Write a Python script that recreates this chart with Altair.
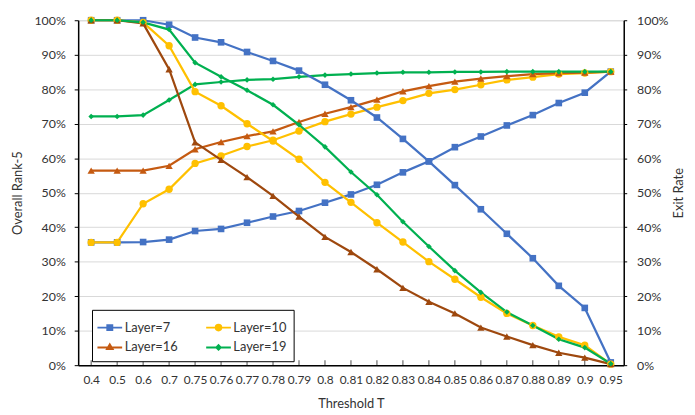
import altair as alt
import pandas as pd

thresholds = ["0.4", "0.5", "0.6", "0.7", "0.75", "0.76", "0.77", "0.78", "0.79", "0.8",
              "0.81", "0.82", "0.83", "0.84", "0.85", "0.86", "0.87", "0.88", "0.89", "0.9", "0.95"]
layers = ["Layer=7", "Layer=10", "Layer=16", "Layer=19"]

# Overall Rank-5 (left axis), percent
acc_7 = [35.6, 35.6, 35.7, 36.4, 38.9, 39.5, 41.3, 43.1, 44.7, 47.1, 49.5, 52.3, 55.9, 59.1, 63.2, 66.3, 69.5, 72.5, 76.0, 79.0, 85.1]
acc_10 = [35.6, 35.6, 46.8, 51.0, 58.5, 60.7, 63.4, 65.2, 67.9, 70.6, 72.8, 74.8, 76.7, 78.8, 79.9, 81.3, 82.7, 83.5, 84.4, 84.7, 85.1]
acc_16 = [56.4, 56.4, 56.4, 57.8, 62.6, 64.7, 66.4, 67.8, 70.5, 72.9, 74.8, 77.0, 79.4, 80.9, 82.2, 83.1, 83.8, 84.4, 84.7, 84.8, 85.1]
acc_19 = [72.1, 72.1, 72.5, 76.9, 81.4, 82.1, 82.7, 82.9, 83.6, 84.1, 84.4, 84.7, 84.9, 84.9, 85.0, 85.0, 85.1, 85.1, 85.1, 85.1, 85.1]

# Exit Rate (right axis), percent
exit_7 = [100, 100, 100, 98.7, 95.0, 93.6, 90.8, 88.2, 85.4, 81.3, 76.8, 71.8, 65.6, 59.1, 52.2, 45.2, 38.1, 31.0, 23.0, 16.6, 0.8]
exit_10 = [100, 100, 99.4, 92.6, 79.3, 75.2, 70.0, 65.0, 59.7, 53.0, 47.2, 41.3, 35.7, 30.0, 24.9, 19.7, 15.0, 11.5, 8.2, 5.8, 0.3]
exit_16 = [100, 100, 99.1, 85.8, 64.6, 59.5, 54.5, 49.1, 43.1, 37.2, 32.8, 27.8, 22.4, 18.4, 15.0, 10.9, 8.3, 5.8, 3.6, 2.2, 0.3]
exit_19 = [100, 100, 99.4, 97.3, 87.7, 83.6, 79.7, 75.5, 69.7, 63.3, 56.0, 49.4, 41.6, 34.4, 27.4, 21.1, 15.4, 11.5, 7.5, 5.1, 0.4]

acc_colors = ["#4472C4", "#FFC000", "#C55A11", "#00B050"]
exit_colors = ["#4472C4", "#FFC000", "#9E480E", "#00B050"]
shapes = ["square", "circle", "triangle-up", "diamond"]
sizes = [45, 55, 55, 32]

rows = []
for name, acc, ex in zip(layers, [acc_7, acc_10, acc_16, acc_19], [exit_7, exit_10, exit_16, exit_19]):
    for t, a, e in zip(thresholds, acc, ex):
        rows.append(dict(T=t, layer=name, series=name, metric="acc", v=a / 100))
        rows.append(dict(T=t, layer=name, series=name + " exit", metric="exit", v=e / 100))
df = pd.DataFrame(rows)

series_domain = layers + [l + " exit" for l in layers]
series_range = acc_colors + exit_colors

FONT = "Lato"
TXT = "#333333"

# legend symbols: a line segment with a marker (marker drawn with concentric strokes)
line_seg = "M-1.25,0H1.25"
legend_paths = [
    line_seg + "M-0.25,-0.25H0.25V0.25H-0.25ZM-0.1,-0.1H0.1V0.1H-0.1Z",
    line_seg + "M0.28,0A0.28,0.28,0,1,1,-0.28,0A0.28,0.28,0,1,1,0.28,0Z"
               "M0.1,0A0.1,0.1,0,1,1,-0.1,0A0.1,0.1,0,1,1,0.1,0Z",
    line_seg + "M0,-0.3L0.28,0.17H-0.28ZM0,-0.1L0.09,0.05H-0.09Z",
    line_seg + "M0,-0.22L0.22,0L0,0.22L-0.22,0ZM0,-0.06L0.06,0L0,0.06L-0.06,0Z",
]

legend = alt.Legend(
    orient="none", legendX=14, legendY=293, columns=2, direction="horizontal", title=None,
    symbolSize=400, symbolStrokeWidth=2,
    labelFont=FONT, labelFontSize=13, labelColor=TXT, labelOffset=4,
    strokeColor="black", fillColor="white", padding=7,
    columnPadding=24, rowPadding=2,
)

stroke_enc = alt.Stroke("series:N", scale=alt.Scale(domain=series_domain, range=series_range), legend=None)
fill_enc = alt.Fill("series:N", scale=alt.Scale(domain=series_domain, range=series_range), legend=None)

x = alt.X("T:N", sort=thresholds, scale=alt.Scale(type="point", padding=0.5),
          axis=alt.Axis(title="Threshold T", labelAngle=0, labelOverlap=False, ticks=False,
                        labelPadding=10, titlePadding=12, labelFontSize=12, titleFontSize=13,
                        labelFont=FONT, titleFont=FONT, labelColor=TXT, titleColor=TXT,
                        titleFontWeight="normal", domainColor="black", domainWidth=1.5, grid=False))

pct_vals = [i / 10 for i in range(11)]
y_left = alt.Y("v:Q", scale=alt.Scale(domain=[0, 1]),
               axis=alt.Axis(title="Overall Rank-5", orient="left", format=".0%", values=pct_vals,
                             labelOverlap=False,
                             tickSize=4, tickColor="black", labelPadding=9, titlePadding=10,
                             labelFont=FONT, titleFont=FONT, labelFontSize=12.5, titleFontSize=13,
                             labelColor=TXT, titleColor=TXT, titleFontWeight="normal",
                             domainColor="black", domainWidth=1.5, grid=True, gridColor="#D9D9D9",
                             gridWidth=1))
y_right = alt.Y("v:Q", scale=alt.Scale(domain=[0, 1]),
                axis=alt.Axis(title="Exit Rate", orient="right", format=".0%", values=pct_vals,
                              labelOverlap=False,
                              tickSize=3, tickColor="black", labelPadding=10, titlePadding=18,
                              titleAngle=270, titleBaseline="bottom",
                              labelFont=FONT, titleFont=FONT, labelFontSize=12.5, titleFontSize=13,
                              labelColor=TXT, titleColor=TXT, titleFontWeight="normal",
                              domainColor="black", domainWidth=1.5, grid=False))


def series_layers(metric, y):
    base = alt.Chart(df).transform_filter(f"datum.metric == '{metric}'")
    parts = [base.mark_line(strokeWidth=2.25).encode(x=x, y=y, stroke=stroke_enc)]
    for name, shp, sz in zip(layers, shapes, sizes):
        parts.append(
            base.transform_filter(f"datum.layer == '{name}'")
            .mark_point(filled=True, opacity=1, shape=shp, size=sz)
            .encode(x=x, y=y, fill=fill_enc)
        )
    return parts


xticks = alt.Chart(pd.DataFrame({"T": thresholds, "v": [0] * len(thresholds)})).mark_tick(
    orient="vertical", size=5, thickness=1, color="black", yOffset=-2.5
).encode(x=x, y=y_left)

legend_layer = alt.Chart(df).transform_filter("false").mark_point(
    filled=False, strokeWidth=2, opacity=1
).encode(
    color=alt.Color("layer:N", scale=alt.Scale(domain=layers, range=acc_colors), legend=legend),
    shape=alt.Shape("layer:N", scale=alt.Scale(domain=layers, range=legend_paths), legend=legend),
)

acc_layer = alt.layer(xticks, *series_layers("acc", y_left), legend_layer)
exit_layer = alt.layer(*series_layers("exit", y_right))

chart = alt.layer(acc_layer, exit_layer).resolve_scale(y="independent").properties(
    width=552, height=349,
    autosize=alt.AutoSizeParams(type="none"),
    padding={"left": 71, "top": 10, "right": 64, "bottom": 46},
).configure_view(stroke="black", strokeWidth=1.5).configure(font=FONT, background="white")

chart.save("out.html", embed_options={"renderer": "svg", "actions": False})
